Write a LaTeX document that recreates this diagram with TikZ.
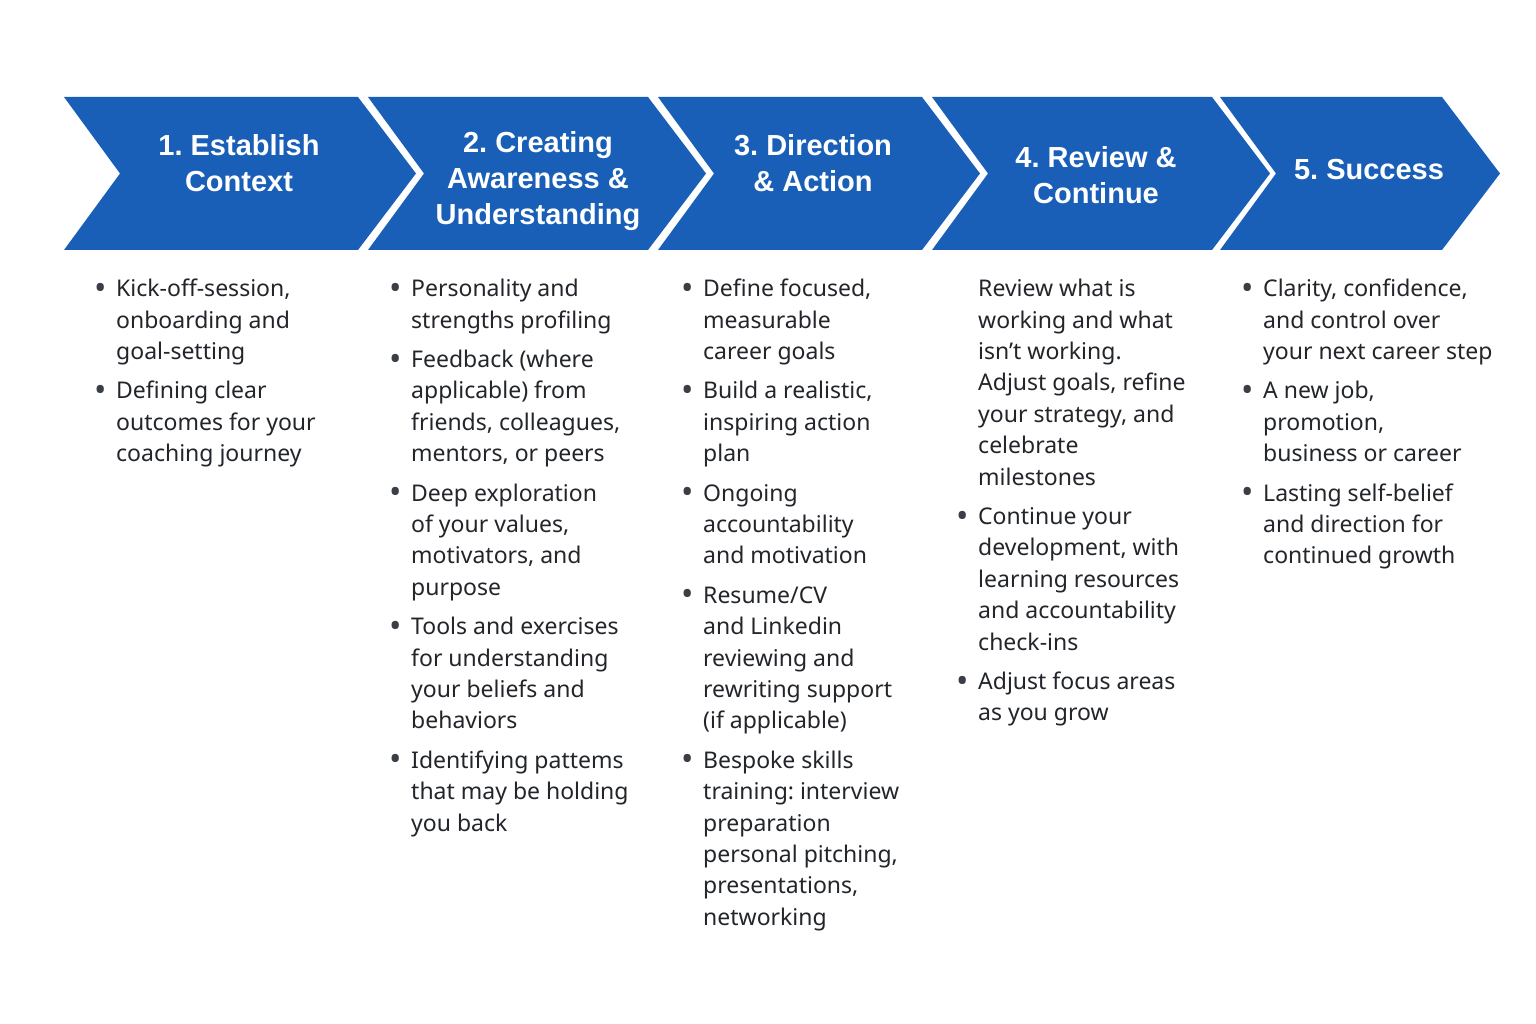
\documentclass[tikz,border=0pt]{standalone}
\usepackage{fontspec}
\usepackage{array}
\setmainfont{Noto Sans}
\newfontfamily\headfont{Liberation Sans}
\definecolor{chevblue}{RGB}{25,95,183}
\definecolor{bodytext}{RGB}{34,37,42}
\definecolor{dotgrey}{RGB}{58,62,70}
\frenchspacing

\newcommand{\bul}{\raisebox{-2.6pt}{\fontsize{33}{33}\selectfont\textcolor{dotgrey}{\textbullet}}}

\begin{document}
\begin{tikzpicture}[x=1pt, y=-1pt,
  head/.style={text=white, align=center, inner sep=0pt,
    font=\headfont\bfseries\fontsize{29}{36}\selectfont},
  body/.style={anchor=north west, inner sep=0pt, text=bodytext,
    font=\fontsize{23}{31.4}\selectfont}]
\useasboundingbox[fill=white] (0,0) rectangle (1536,1024);

% the five chevrons: left edge / right edge at the top
\foreach \l/\r in {64/358, 368/648, 658/922, 932/1212, 1220/1442}
  \fill[chevblue] (\l,97) -- (\r,97) -- (\r+58,173.5) -- (\r,250)
    -- (\l,250) -- (\l+56,173.5) -- cycle;

\node[head] (t1) at (239,163) {1. Establish\\Context};
\node[head] (t2) at (538,181) {2. Creating\\Awareness \&\\Understanding};
\node[head] (t3) at (813,163) {3. Direction\\\& Action};
\node[head] (t4) at (1096,175) {4. Review \&\\Continue};
\node[head] (t5) at (1369,170) {5. Success};

\node[body] (b1) at (94,274.5) {\begin{tabular}{@{}wl{22pt}@{}l@{}}
\bul & Kick-off-session,\\
 & onboarding and\\
 & goal-setting\\[8pt]
\bul & Defining clear\\
 & outcomes for your\\
 & coaching journey
\end{tabular}};

\node[body] (b2) at (389,274.5) {\begin{tabular}{@{}wl{22pt}@{}l@{}}
\bul & Personality and\\
 & strengths profiling\\[8pt]
\bul & Feedback (where\\
 & applicable) from\\
 & friends, colleagues,\\
 & mentors, or peers\\[8pt]
\bul & Deep exploration\\
 & of your values,\\
 & motivators, and\\
 & purpose\\[8pt]
\bul & Tools and exercises\\
 & for understanding\\
 & your beliefs and\\
 & behaviors\\[8pt]
\bul & Identifying pattems\\
 & that may be holding\\
 & you back
\end{tabular}};

\node[body] (b3) at (681,274.5) {\begin{tabular}{@{}wl{22pt}@{}l@{}}
\bul & Define focused,\\
 & measurable\\
 & career goals\\[8pt]
\bul & Build a realistic,\\
 & inspiring action\\
 & plan\\[8pt]
\bul & Ongoing\\
 & accountability\\
 & and motivation\\[8pt]
\bul & Resume/CV\\
 & and Linkedin\\
 & reviewing and\\
 & rewriting support\\
 & (if applicable)\\[8pt]
\bul & Bespoke skills\\
 & training: interview\\
 & preparation\\
 & personal pitching,\\
 & presentations,\\
 & networking
\end{tabular}};

\node[body] (b4) at (956,274.5) {\begin{tabular}{@{}wl{22pt}@{}l@{}}
 & Review what is\\
 & working and what\\
 & isn't working.\\
 & Adjust goals, refine\\
 & your strategy, and\\
 & celebrate\\
 & milestones\\[8pt]
\bul & Continue your\\
 & development, with\\
 & learning resources\\
 & and accountability\\
 & check-ins\\[8pt]
\bul & Adjust focus areas\\
 & as you grow
\end{tabular}};

\node[body] (b5) at (1241,274.5) {\begin{tabular}{@{}wl{22pt}@{}l@{}}
\bul & Clarity, confidence,\\
 & and control over\\
 & your next career step\\[8pt]
\bul & A new job,\\
 & promotion,\\
 & business or career\\[8pt]
\bul & Lasting self-belief\\
 & and direction for\\
 & continued growth
\end{tabular}};
\end{tikzpicture}
\end{document}
